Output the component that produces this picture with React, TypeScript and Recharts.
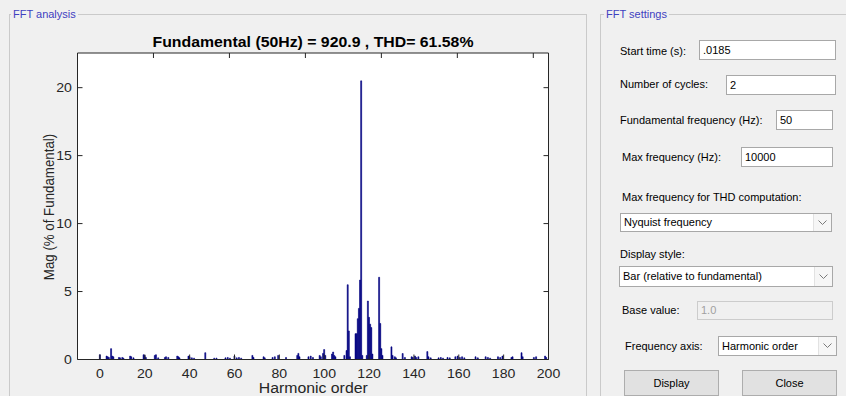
import { BarChart, Bar, XAxis, YAxis, CartesianGrid } from 'recharts';

// FFT spectrum, harmonic order (0.5 steps because 2 cycles are analysed)
const harmonicOrder = [
  0, 3, 3.5, 4, 5, 5.5, 6, 8.5, 9, 10, 10.5, 13.5, 14, 15, 19.5, 20, 20.5, 24.5, 25, 26,
  29, 29.5, 30.5, 34.5, 35, 35.5, 39.5, 40, 41, 42, 47, 51, 52, 56, 57, 58, 60, 61, 62, 63,
  68, 68.5, 73, 73.5, 77, 78, 79.5, 83, 88, 88.5, 89, 93, 94, 95, 98, 98.5, 99.5, 100, 100.5,
  103.5, 104, 104.5, 105, 109, 110, 110.5, 111, 111.5, 114, 114.5, 115, 115.5, 116, 116.5, 117,
  119, 119.5, 120, 120.5, 121, 121.5, 124.5, 125, 125.5, 126, 130, 130.5, 131.5, 132, 135, 136,
  139, 139.5, 140.5, 141, 142, 146, 146.5, 147.5, 151, 152, 153, 155, 156, 158.5, 159.5, 160.5,
  161.5, 162.5, 167.5, 168.5, 172, 173, 174, 177.5, 178.5, 179.5, 183.5, 184, 188, 188.5,
  193.5, 194.5, 198.5, 199,
];
// Mag (% of fundamental)
const magnitude = [
  0.35, 0.25, 0.2, 0.15, 0.8, 0.25, 0.2, 0.15, 0.12, 0.15, 0.1, 0.25, 0.2, 0.12, 0.35, 0.3, 0.15, 0.3, 0.35, 0.12,
  0.15, 0.2, 0.15, 0.25, 0.2, 0.12, 0.25, 0.2, 0.12, 0.1, 0.5, 0.1, 0.1, 0.12, 0.15, 0.1, 0.25, 0.12, 0.15, 0.1,
  0.3, 0.15, 0.2, 0.12, 0.15, 0.2, 0.3, 0.15, 0.3, 0.45, 0.2, 0.2, 0.25, 0.15, 0.3, 0.2, 0.45, 0.73, 0.3,
  0.4, 0.55, 0.3, 0.2, 0.3, 0.66, 5.5, 2.1, 0.2, 1.9, 1.9, 3.0, 3.76, 5.84, 20.5, 0.3,
  0.3, 4.3, 3.1, 2.6, 2.35, 0.4, 6.05, 2.65, 0.8, 0.3, 0.93, 0.3, 0.2, 0.12, 0.44, 0.15,
  0.2, 0.15, 0.25, 0.15, 0.2, 0.58, 0.2, 0.12, 0.12, 0.15, 0.1, 0.15, 0.12, 0.2, 0.25, 0.15,
  0.2, 0.12, 0.2, 0.12, 0.2, 0.15, 0.1, 0.2, 0.15, 0.25, 0.15, 0.2, 0.5, 0.2,
  0.15, 0.2, 0.25, 0.15,
];

const xTicks = [0, 20, 40, 60, 80, 100, 120, 140, 160, 180, 200];
const yTicks = [0, 5, 10, 15, 20];
const xDomain = [-10, 200];
const yDomain = [0, 22.55];

const spectrum = harmonicOrder.map((h, i) => ({ h, mag: magnitude[i] }));

const AXIS = '#262626';
const FONT = '"Liberation Sans", Arial, sans-serif';
const STRETCH = 'scale(1.13,1)';

// ticks point into the plot box, like MATLAB axes
const XTick = ({ x, y, payload }: any) => (
  <g transform={`translate(${x},${y})`}>
    <line x1={0} x2={0} y1={-10} y2={-15} stroke={AXIS} />
    <text transform={STRETCH} textAnchor="middle" dy="0.71em" fontSize={12.5} fill={AXIS} fontFamily={FONT}>
      {payload.value}
    </text>
  </g>
);

const YTick = ({ x, y, payload }: any) => (
  <g transform={`translate(${x},${y})`}>
    <line x1={5.6} x2={10.6} y1={0} y2={0} stroke={AXIS} />
    <text transform={STRETCH} textAnchor="end" dy="0.36em" fontSize={12.5} fill={AXIS} fontFamily={FONT}>
      {payload.value}
    </text>
  </g>
);

const TopTick = ({ x, y }: any) => <line x1={x} x2={x} y1={y} y2={y + 5} stroke={AXIS} />;
const RightTick = ({ x, y }: any) => <line x1={x} x2={x - 5} y1={y} y2={y} stroke={AXIS} />;

const GroupBox = ({ left, top, width, height, title, titleLeft }: any) => (
  <div
    style={{
      position: 'absolute', left, top, width, height, boxSizing: 'border-box',
      border: '1px solid #cacaca',
    }}
  >
    <span
      style={{
        position: 'absolute', left: titleLeft, top: -8, padding: '0 2px', background: '#f0f0f0',
        color: '#4040c0', fontSize: 11, lineHeight: '14px', whiteSpace: 'nowrap',
      }}
    >
      {title}
    </span>
  </div>
);

const Lbl = ({ x, cy, children }: any) => (
  <div style={{ position: 'absolute', left: x, top: cy - 7, fontSize: 11, lineHeight: '14px', whiteSpace: 'nowrap', color: '#000' }}>
    {children}
  </div>
);

const Field = ({ x1, x2, y1, y2, value, disabled, drop }: any) => (
  <div
    style={{
      position: 'absolute', left: x1, top: y1, width: x2 - x1, height: y2 - y1, boxSizing: 'border-box',
      background: disabled ? '#f0f0f0' : '#fff', border: `1px solid ${disabled ? '#cccccc' : '#a8a8a8'}`,
      fontSize: 11, lineHeight: `${y2 - y1 - 2}px`, paddingLeft: 3, color: disabled ? '#a0a0a0' : '#000',
      whiteSpace: 'nowrap', overflow: 'hidden',
    }}
  >
    {value}
    {drop && (
      <div
        style={{
          position: 'absolute', right: 0, top: 0, bottom: 0, width: 17, background: '#f6f6f6',
          borderLeft: '1px solid #e2e2e2', display: 'flex', alignItems: 'center', justifyContent: 'center',
        }}
      >
        <svg width={9} height={6}>
          <polyline points="0.5,0.5 4.5,4.5 8.5,0.5" fill="none" stroke="#7a7a7a" />
        </svg>
      </div>
    )}
  </div>
);

const Button = ({ x1, x2, y1, y2, children }: any) => (
  <div
    style={{
      position: 'absolute', left: x1, top: y1, width: x2 - x1, height: y2 - y1, boxSizing: 'border-box',
      background: '#e1e1e1', border: '1px solid #adadad', fontSize: 11, lineHeight: `${y2 - y1 - 2}px`,
      textAlign: 'center', color: '#000',
    }}
  >
    {children}
  </div>
);

export default function App() {
  return (
    <div
      style={{
        position: 'absolute', left: 0, top: 0, width: 846, height: 396, overflow: 'hidden',
        background: '#f0f0f0', fontFamily: FONT,
      }}
    >
      <GroupBox left={9} top={14} width={578} height={420} title="FFT analysis" titleLeft={1} />
      <GroupBox left={600} top={14} width={270} height={420} title="FFT settings" titleLeft={3} />

      <div style={{ position: 'absolute', left: 0, top: 0 }}>
        <BarChart
          width={600}
          height={396}
          data={spectrum}
          margin={{ top: 52, right: 50.5, bottom: 6.5, left: 0 }}
        >
          <CartesianGrid fill="#ffffff" horizontal={false} vertical={false} />
          <XAxis
            dataKey="h"
            type="number"
            domain={xDomain}
            ticks={xTicks}
            interval={0}
            allowDataOverflow
            height={30}
            tickSize={0}
            tickMargin={10}
            tickLine={false}
            axisLine={{ stroke: AXIS }}
            tick={(p: any) => <XTick {...p} />}
          />
          <XAxis
            xAxisId="top"
            orientation="top"
            type="number"
            domain={xDomain}
            ticks={xTicks}
            interval={0}
            allowDataOverflow
            height={1}
            tickSize={0}
            tickMargin={0}
            tickLine={false}
            axisLine={{ stroke: AXIS }}
            tick={(p: any) => <TopTick {...p} />}
          />
          <YAxis
            type="number"
            domain={yDomain}
            ticks={yTicks}
            interval={0}
            allowDataOverflow
            width={77.5}
            tickSize={0}
            tickMargin={5.6}
            tickLine={false}
            axisLine={{ stroke: AXIS }}
            tick={(p: any) => <YTick {...p} />}
          />
          <YAxis
            yAxisId="right"
            orientation="right"
            type="number"
            domain={yDomain}
            ticks={yTicks}
            interval={0}
            allowDataOverflow
            width={1}
            tickSize={0}
            tickMargin={0}
            tickLine={false}
            axisLine={{ stroke: AXIS }}
            tick={(p: any) => <RightTick {...p} />}
          />
          <Bar dataKey="mag" fill="#000080" stroke="#000080" strokeWidth={0.6} barSize={1.4} isAnimationActive={false} />
        </BarChart>
      </div>

      {/* chart title and axis labels */}
      <div style={{ position: 'absolute', left: 112.9, top: 34.4, width: 400, textAlign: 'center', fontSize: 14, fontWeight: 'bold', lineHeight: 'normal', whiteSpace: 'nowrap' }}>
        <span style={{ display: 'inline-block', transform: 'scaleX(1.13)' }}>
          Fundamental (50Hz) = 920.9 , THD= 61.58%
        </span>
      </div>
      <div style={{ position: 'absolute', left: 112.9, top: 380.4, width: 400, textAlign: 'center', fontSize: 14, lineHeight: 'normal', color: AXIS, whiteSpace: 'nowrap' }}>
        <span style={{ display: 'inline-block', transform: 'scaleX(1.13)' }}>Harmonic order</span>
      </div>
      <div
        style={{
          position: 'absolute', left: 49 - 100, top: 206.5 - 10, width: 200, height: 20, lineHeight: '20px',
          textAlign: 'center', fontSize: 13.3, color: AXIS, whiteSpace: 'nowrap',
          transform: 'scaleX(1.13) rotate(-90deg)',
        }}
      >
        Mag (% of Fundamental)
      </div>

      {/* FFT settings panel */}
      <Lbl x={620} cy={51}>Start time (s):</Lbl>
      <Field x1={699} x2={836} y1={40} y2={60} value=".0185" />
      <Lbl x={620} cy={84}>Number of cycles:</Lbl>
      <Field x1={726} x2={836} y1={75} y2={95} value="2" />
      <Lbl x={620} cy={120}>Fundamental frequency (Hz):</Lbl>
      <Field x1={776} x2={833} y1={110} y2={130} value="50" />
      <Lbl x={622} cy={157}>Max frequency (Hz):</Lbl>
      <Field x1={741} x2={833} y1={147} y2={167} value="10000" />
      <Lbl x={622} cy={197}>Max frequency for THD computation:</Lbl>
      <Field x1={620} x2={832} y1={213} y2={232} value="Nyquist frequency" drop />
      <Lbl x={620} cy={254}>Display style:</Lbl>
      <Field x1={619} x2={833} y1={266} y2={287} value="Bar (relative to fundamental)" drop />
      <Lbl x={622} cy={310}>Base value:</Lbl>
      <Field x1={697} x2={833} y1={301} y2={320} value="1.0" disabled />
      <Lbl x={625} cy={346}>Frequency axis:</Lbl>
      <Field x1={718} x2={837} y1={336} y2={356} value="Harmonic order" drop />
      <Button x1={624} x2={719} y1={370} y2={396}>Display</Button>
      <Button x1={742} x2={837} y1={370} y2={396}>Close</Button>
    </div>
  );
}
